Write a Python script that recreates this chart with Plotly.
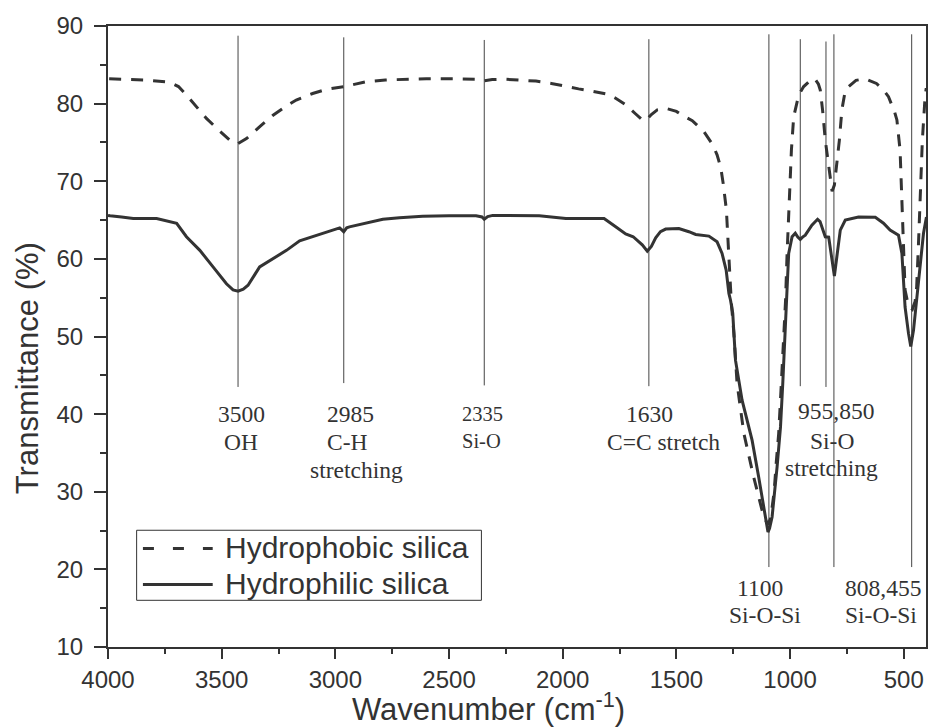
import plotly.graph_objects as go

# ---------------- data ----------------
phobic_x = [3995, 3845, 3728, 3690, 3655, 3610, 3567, 3510, 3457, 3428, 3391, 3330, 3274, 3220, 3172,
            3100, 3040, 2960, 2864, 2780, 2718, 2600, 2469, 2380, 2345, 2310, 2250, 2118, 2050, 1986,
            1930, 1869, 1800, 1767, 1720, 1680, 1650, 1635, 1610, 1584, 1547, 1500, 1474, 1430, 1379,
            1340, 1321, 1305, 1294, 1280, 1269, 1262, 1258, 1247, 1233, 1203, 1160, 1123, 1105, 1097,
            1085, 1070, 1060, 1050, 1040, 1030, 1020, 1013, 1003, 994, 984, 962, 940, 910, 892,
            875, 867, 857, 845, 830, 815, 805, 798, 783, 772, 760, 750, 710, 669, 620,
            590, 567, 540, 530, 516, 508, 501, 494, 480, 462, 450, 443, 435, 428, 418, 406, 401]
phobic_y = [83.2, 83.05, 82.75, 82.2, 81.1, 79.6, 78.1, 76.5, 75.1, 74.85, 75.5, 77.1, 78.5, 79.6, 80.46,
            81.3, 81.84, 82.2, 82.82, 83.05, 83.13, 83.2, 83.2, 83.15, 82.95, 83.1, 83.13, 82.9, 82.6, 82.18,
            81.9, 81.6, 81.2, 80.7, 79.8, 78.7, 77.9, 77.8, 78.6, 79.2, 79.4, 79.0, 78.5, 77.8, 76.4,
            74.7, 73.4, 71.8, 69.7, 66.3, 61.1, 56.4, 54.3, 50.4, 43.95, 37.5, 31.9, 27.6, 26.2, 25.8,
            26.6, 30.0, 34.0, 37.5, 43.0, 49.0, 54.5, 60.7, 67.6, 74.0, 78.3, 81.1, 82.2, 83.0, 83.25,
            82.5, 81.75, 79.2, 75.3, 71.9, 68.7, 69.5, 71.4, 75.3, 79.2, 81.2, 82.0, 83.0, 83.2, 82.6,
            81.8, 80.9, 78.9, 77.9, 74.0, 67.6, 61.1, 56.0, 54.0, 53.5, 54.5, 56.4, 62.0, 67.6, 75.3, 80.9, 82.0]

philic_x = [4000, 3991, 3940, 3889, 3786, 3742, 3698, 3655, 3596, 3538, 3479, 3450, 3428, 3405, 3384,
            3333, 3274, 3215, 3157, 3084, 3011, 2981, 2963, 2950, 2938, 2864, 2791, 2718, 2616, 2500,
            2381, 2355, 2345, 2330, 2308, 2103, 1986, 1884, 1818, 1767, 1723, 1690, 1672, 1650, 1628,
            1610, 1591, 1570, 1547, 1489, 1445, 1415, 1357, 1321, 1299, 1281, 1269, 1262, 1252, 1240,
            1211, 1167, 1138, 1116, 1105, 1097, 1090, 1079, 1057, 1042, 1032, 1023, 1016, 1006, 991,
            977, 966, 955, 945, 933, 904, 879, 868, 860, 850, 845, 830, 815, 805, 794,
            779, 757, 699, 625, 589, 560, 523, 508, 501, 494, 479, 469, 457, 443, 428, 413, 400]
philic_y = [65.6, 65.55, 65.4, 65.2, 65.2, 64.9, 64.57, 62.85, 61.1, 58.97, 56.8, 56.0, 55.85, 56.1, 56.6,
            58.97, 60.06, 61.1, 62.33, 63.06, 63.8, 64.0, 63.5, 64.0, 64.13, 64.65, 65.1, 65.3, 65.5, 65.55,
            65.55, 65.4, 65.1, 65.45, 65.6, 65.55, 65.2, 65.2, 65.2, 64.13, 63.2, 62.85, 62.4, 61.8, 61.0,
            61.6, 62.7, 63.5, 63.84, 63.9, 63.5, 63.15, 62.93, 62.2, 60.7, 58.55, 55.55, 54.7, 53.0, 46.95,
            41.8, 36.65, 31.9, 28.05, 26.0, 24.8, 25.3, 26.75, 33.2, 38.35, 43.95, 49.5, 54.7, 60.7, 62.85,
            63.3, 62.8, 62.5, 62.8, 63.06, 64.35, 65.1, 64.8, 64.1, 63.0, 62.85, 62.8, 59.8, 57.8, 60.3,
            63.7, 65.0, 65.4, 65.35, 64.6, 63.7, 63.06, 60.7, 56.8, 53.8, 50.4, 48.7, 50.8, 54.7, 59.8, 63.3, 65.4]

# band marker lines (wavenumber, top, bottom)
band_x = [3428, 2963, 2345, 1621, 1093, 955, 842, 807, 465]
band_top = [88.75, 88.54, 88.2, 88.3, 88.93, 88.3, 88.0, 88.93, 88.93]
band_bottom = [43.5, 44.0, 43.7, 43.6, 20.3, 43.6, 43.5, 20.3, 20.3]

# annotation text lines (text, wavenumber centre, transmittance centre, font size)
label_text = ["3500", "OH", "2985", "C-H", "stretching", "2335", "Si-O", "1630", "C=C stretch",
              "955,850", "Si-O", "stretching", "1100", "Si-O-Si", "808,455", "Si-O-Si"]
label_x = [3413, 3417, 2933, 2947, 2908, 2352, 2358, 1620, 1555, 796, 817, 817, 1134, 1108, 589, 600]
label_y = [40.0, 36.4, 40.0, 36.4, 32.8, 40.0, 36.6, 40.0, 36.4, 40.4, 36.6, 33.0, 17.6, 14.1, 17.6, 14.1]
label_size = [23.5, 23.5, 23.5, 23.5, 23.5, 20.5, 20.5, 23.5, 23.5, 23.5, 23.5, 23.5, 23.5, 23.5, 23.5, 23.5]

series_names = ["Hydrophobic silica", "Hydrophilic silica"]
x_ticks = [4000, 3500, 3000, 2500, 2000, 1500, 1000, 500]
y_ticks = [10, 20, 30, 40, 50, 60, 70, 80, 90]

INK = "#333333"
SANS = "Liberation Sans, Arial, sans-serif"
SERIF = "Liberation Serif, Times New Roman, serif"

fig = go.Figure()
fig.add_trace(go.Scatter(x=phobic_x, y=phobic_y, mode="lines", name=series_names[0], showlegend=False,
                         line=dict(color=INK, width=3, dash="12px,10px")))
fig.add_trace(go.Scatter(x=philic_x, y=philic_y, mode="lines", name=series_names[1], showlegend=False,
                         line=dict(color=INK, width=3)))

for bx, bt, bb in zip(band_x, band_top, band_bottom):
    fig.add_shape(type="line", xref="x", yref="y", x0=bx, x1=bx, y0=bb, y1=bt,
                  line=dict(color="#444444", width=1), layer="below")

for t, lx, ly, s in zip(label_text, label_x, label_y, label_size):
    fig.add_annotation(x=lx, y=ly, xref="x", yref="y", text=t, showarrow=False,
                       xanchor="center", yanchor="middle",
                       font=dict(family=SERIF, size=s, color=INK))

# legend box (drawn in paper coordinates)
fig.add_shape(type="rect", xref="paper", yref="paper", x0=0.035, x1=0.4565, y0=0.0752, y1=0.188,
              line=dict(color=INK, width=1), fillcolor="white", layer="above")
legend_dash = ["11px,19px", "solid"]
legend_y = [0.1585, 0.1005]
for name, d, ly in zip(series_names, legend_dash, legend_y):
    fig.add_shape(type="line", xref="paper", yref="paper", x0=0.0427, x1=0.128, y0=ly, y1=ly,
                  line=dict(color=INK, width=3, dash=d), layer="above")
    fig.add_annotation(text=name, xref="paper", yref="paper", x=0.1406, y=ly + 0.001,
                       xanchor="left", yanchor="middle", showarrow=False,
                       font=dict(family=SANS, size=30, color=INK))

# axis titles
fig.add_annotation(text="Wavenumber (cm<sup>-1</sup>)", xref="paper", yref="paper",
                   x=0.4646, y=-0.097, xanchor="center", yanchor="middle", showarrow=False,
                   font=dict(family=SANS, size=31, color=INK))
fig.add_annotation(text="Transmittance (%)", xref="paper", yref="paper",
                   x=-0.099, y=0.449, xanchor="center", yanchor="middle", showarrow=False,
                   textangle=-90,
                   font=dict(family=SANS, size=31, color=INK))

axis_common = dict(showgrid=False, zeroline=False, showline=True, linecolor=INK, linewidth=2,
                   mirror=True, ticks="outside", tickcolor=INK, tickwidth=2,
                   tickfont=dict(family=SANS, size=24, color=INK))

fig.update_xaxes(range=[4000, 402], tickvals=x_ticks, ticklen=10,
                 minor=dict(dtick=250, tick0=0, ticklen=5, ticks="outside", tickcolor=INK, tickwidth=2),
                 **axis_common)
fig.update_yaxes(range=[10, 90], tickvals=y_ticks, ticklen=12, ticklabelstandoff=6,
                 minor=dict(dtick=5, tick0=0, ticklen=6, ticks="outside", tickcolor=INK, tickwidth=2),
                 **axis_common)

fig.update_layout(
    width=928, height=728,
    margin=dict(l=108, r=0, t=26, b=81),
    plot_bgcolor="white", paper_bgcolor="white",
    showlegend=False,
)

fig.write_html("out.html", config={"displayModeBar": False},
               post_script="document.body.style.margin='0px';")
